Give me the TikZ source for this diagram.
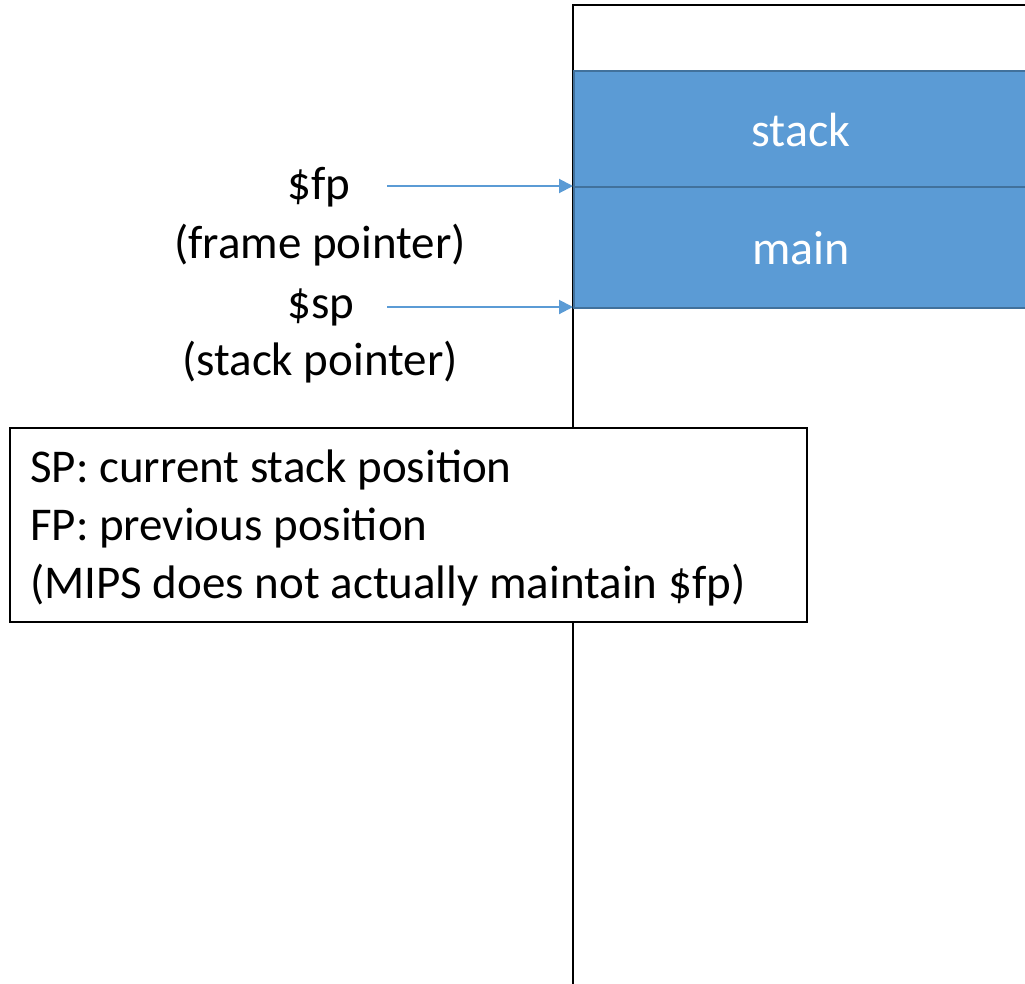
\documentclass[tikz,border=0pt]{standalone}
\usepackage{fontspec}
\setmainfont{Carlito}
\usetikzlibrary{arrows.meta}
\definecolor{frameblue}{HTML}{5B9BD5}
\definecolor{frameedge}{HTML}{41719C}
\tikzset{
  frame/.style={fill=frameblue, draw=frameedge, line width=2pt},
  ptr/.style={draw=frameblue, line width=2pt, -{Triangle[length=14pt,width=14pt]}},
  lbl/.style={font=\fontsize{47}{56}\selectfont, inner sep=0pt, anchor=base},
  framelbl/.style={lbl, font=\fontsize{48}{56}\selectfont, text=white},
}
\begin{document}
\begin{tikzpicture}[x=1pt, y=-1pt]
  \useasboundingbox (0,0) rectangle (1025,983);
  % memory column
  \draw[line width=2pt] (1030,5) -- (573,5) -- (573,990);
  % stack frames
  \node[frame, minimum width=470pt, minimum height=116pt, anchor=north west, inner sep=0pt] (stk) at (573,70) {};
  \node[frame, minimum width=470pt, minimum height=121pt, anchor=north west, inner sep=0pt] (mn) at (573,186) {};
  \node[framelbl] at (801,146) {stack};
  \node[framelbl] at (801,264) {main};
  % pointer labels
  \node[lbl] (fp) at (319,199) {\$fp};
  \node[lbl] at (320,258) {(frame pointer)};
  \node[lbl] (sp) at (321,318) {\$sp};
  \node[lbl] at (320,375) {(stack pointer)};
  \coordinate (fpend) at (573,186);
  \coordinate (spend) at (573,307);
  \coordinate (fpstart) at (387,186);
  \coordinate (spstart) at (387,307);
  \draw[ptr] (fpstart) -- (fpend);
  \draw[ptr] (spstart) -- (spend);
  % note box
  \draw[line width=2pt, fill=white] (10,428) rectangle (807,622);
  \node[lbl, anchor=base west] at (30,482) {SP: current stack position};
  \node[lbl, anchor=base west] at (30,540) {FP: previous position};
  \node[lbl, anchor=base west] at (30,598) {(MIPS does not actually maintain \$fp)};
\end{tikzpicture}
\end{document}
